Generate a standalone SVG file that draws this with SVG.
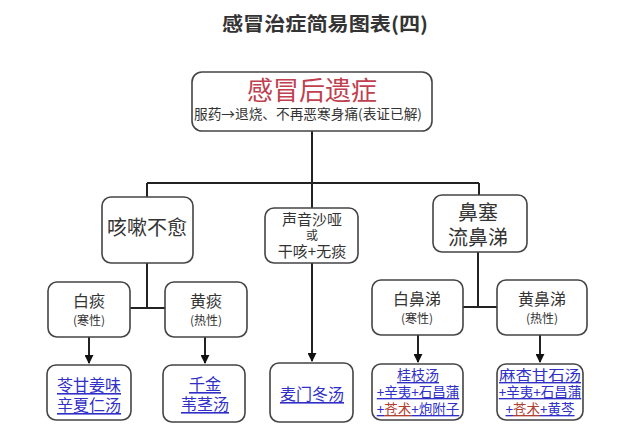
<svg xmlns="http://www.w3.org/2000/svg" width="640" height="431" viewBox="0 0 640 431">
<defs>
<marker id="arr" viewBox="0 0 10 10" refX="9" refY="5" markerWidth="4.5" markerHeight="4.5" orient="auto" markerUnits="strokeWidth">
<path d="M0,0 L10,5 L0,10 z" fill="#111"/>
</marker>
</defs>
<style>
text{font-family:"Noto Sans CJK SC","Noto Sans CJK TC",sans-serif;text-anchor:middle;dominant-baseline:central}
.box{fill:#fff;stroke:#444;stroke-width:1.6}
.ln{fill:none;stroke:#222;stroke-width:2}
.title{font-size:19px;font-weight:bold;fill:#333}
.big{font-size:20px;fill:#333}
.mid{font-size:16px;fill:#333}
.sm{font-size:12px;fill:#333}
.link{fill:#3030c8;text-decoration:underline}
.red{fill:#b04030;text-decoration:underline}
</style>
<rect width="640" height="431" fill="#fff"/>
<text class="title" x="325" y="22" textLength="206" lengthAdjust="spacingAndGlyphs">感冒治症简易图表(四)</text>

<g id="connectors">
<path class="ln" d="M312,131 V183 M147,183 H479 M147,183 V197 M479,183 V195 M312,183 V208"/>
<path class="ln" d="M147,263 V308 M130,308 H165"/>
<path class="ln" d="M478,252 V307 M463,307 H497"/>
<path class="ln" d="M89,337 V363" marker-end="url(#arr)"/>
<path class="ln" d="M205,337 V363" marker-end="url(#arr)"/>
<path class="ln" d="M312,263 V361" marker-end="url(#arr)"/>
<path class="ln" d="M418,335 V362" marker-end="url(#arr)"/>
<path class="ln" d="M540,335 V362" marker-end="url(#arr)"/>
</g>

<g id="root">
<rect class="box" x="192" y="72" width="240" height="59" rx="10" stroke-width="2" stroke="#333"/>
<text x="312" y="88" font-size="26" fill="#c04050">感冒后遗症</text>
<text x="308" y="113" font-size="13.5" fill="#333" textLength="228" lengthAdjust="spacingAndGlyphs">服药→退烧、不再恶寒身痛(表证已解)</text>
</g>

<g id="cough">
<rect class="box" x="102" y="197" width="91" height="66" rx="9"/>
<text class="big" x="147" y="226">咳嗽不愈</text>
</g>

<g id="hoarse">
<rect class="box" x="265" y="208" width="93" height="55" rx="9"/>
<text x="312" y="218" font-size="15" fill="#333">声音沙哑</text>
<text class="sm" x="312" y="234" font-size="11">或</text>
<text x="312" y="250" font-size="15" fill="#333">干咳+无痰</text>
</g>

<g id="nose">
<rect class="box" x="433" y="195" width="94" height="57" rx="9"/>
<text class="big" x="478" y="211">鼻塞</text>
<text class="big" x="478" y="236">流鼻涕</text>
</g>

<g id="white-phlegm">
<rect class="box" x="48" y="282" width="82" height="55" rx="9"/>
<text class="mid" x="89" y="300">白痰</text>
<text class="sm" x="89" y="319">(寒性)</text>
</g>

<g id="yellow-phlegm">
<rect class="box" x="165" y="282" width="82" height="55" rx="9"/>
<text class="mid" x="206" y="300">黄痰</text>
<text class="sm" x="206" y="319">(热性)</text>
</g>

<g id="white-snot">
<rect class="box" x="372" y="280" width="91" height="55" rx="9"/>
<text class="mid" x="417" y="298">白鼻涕</text>
<text class="sm" x="417" y="317">(寒性)</text>
</g>

<g id="yellow-snot">
<rect class="box" x="497" y="280" width="90" height="55" rx="9"/>
<text class="mid" x="542" y="298">黄鼻涕</text>
<text class="sm" x="542" y="317">(热性)</text>
</g>

<g id="rx1">
<rect class="box" x="47" y="365" width="84" height="55" rx="9"/>
<text class="mid link" x="89" y="384">苓甘姜味</text>
<text class="mid link" x="89" y="404">辛夏仁汤</text>
</g>

<g id="rx2">
<rect class="box" x="163" y="365" width="82" height="57" rx="9"/>
<text class="mid link" x="205" y="383">千金</text>
<text class="mid link" x="205" y="403">苇茎汤</text>
</g>

<g id="rx3">
<rect class="box" x="270" y="363" width="83" height="59" rx="9"/>
<text class="mid link" x="312" y="393">麦门冬汤</text>
</g>

<g id="rx4">
<rect class="box" x="372" y="364" width="91" height="56" rx="9"/>
<text x="418" y="374" font-size="14" class="link">桂枝汤</text>
<text x="418" y="391" font-size="13.5" class="link">+辛夷+石昌蒲</text>
<text x="418" y="408" font-size="13.5"><tspan class="link">+</tspan><tspan class="red">苍术</tspan><tspan class="link">+炮附子</tspan></text>
</g>

<g id="rx5">
<rect class="box" x="497" y="364" width="86" height="56" rx="9"/>
<text x="540" y="374" font-size="14" class="link" textLength="82" lengthAdjust="spacingAndGlyphs">麻杏甘石汤</text>
<text x="540" y="391" font-size="13.5" class="link">+辛夷+石昌蒲</text>
<text x="540" y="408" font-size="13.5"><tspan class="link">+</tspan><tspan class="red">苍术</tspan><tspan class="link">+黄芩</tspan></text>
</g>
</svg>
